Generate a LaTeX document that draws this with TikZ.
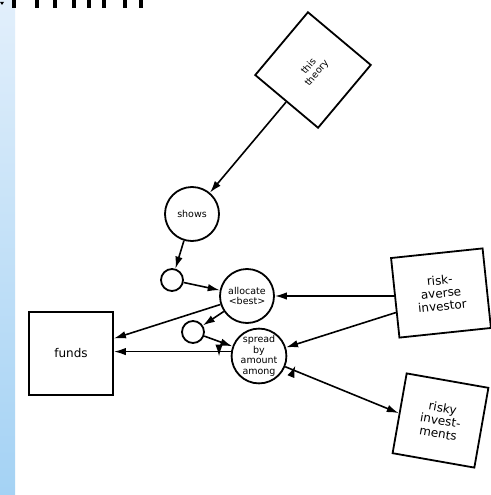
\documentclass[tikz,border=0pt]{standalone}
\usepackage{fontspec}
\setmainfont{DejaVu Sans}
\usetikzlibrary{arrows.meta,calc,decorations.markings}
\definecolor{stripTop}{HTML}{E2EFFB}
\definecolor{stripBot}{HTML}{A4D2F4}
\tikzset{
  conn/.style={line width=1.6pt,-{Latex[length=12pt,width=7.5pt]}},
  circ/.style={circle,draw,line width=1.8pt,minimum size=54pt,inner sep=0pt,align=center,font=\fontsize{9.5}{10.5}\selectfont},
  smallc/.style={circle,draw,line width=1.8pt,minimum size=22pt,inner sep=0pt},
  box/.style={rectangle,draw,line width=1.8pt,align=center,inner sep=0pt,font=\fontsize{12}{13}\selectfont},
  tickstart/.style={postaction={decorate,decoration={markings,mark=at position #1 with {\draw[line width=1.6pt] (0,-5pt) -- (0,5pt);}}}},
  tickstart/.default=10pt
}
\begin{document}
\begin{tikzpicture}[x=1pt,y=-1pt]
\useasboundingbox (0,0) rectangle (490,495);
\fill[white] (0,0) rectangle (490,495);
\shade[top color=stripTop,bottom color=stripBot] (0,0) rectangle (15,495);
% cut-off lettering at the top
\fill (0,2) -- (4,2) -- (2,5) -- cycle;
\foreach \xx in {12,35,53,72,87,102,123,139}{
  \fill (\xx,0) rectangle ++(3.6,8);
}
% nodes
\node[box,minimum width=82pt,minimum height=82pt,rotate=50,font=\fontsize{9.5}{10.5}\selectfont] (theory) at (313,70) {this\\theory};
\node[circ] (shows) at (192,214) {shows};
\node[smallc] (s1) at (172,280) {};
\node[circ] (alloc) at (247,296) {allocate\\<best>};
\node[smallc] (s2) at (193,332) {};
\node[circ] (spread) at (259,356) {spread\\by\\amount\\among};
\node[box,minimum width=84pt,minimum height=83pt] (funds) at (71,353.5) {funds};
\node[box,minimum width=92pt,minimum height=80pt,rotate=6] (risk) at (441,293) {risk-\\averse\\investor};
\node[box,minimum width=83pt,minimum height=81pt,rotate=-10] (risky) at (440.5,420.5) {risky\\invest-\\ments};
\coordinate (riskLow) at ($(risk.north west)!0.68!(risk.south west)$);
\coordinate (riskyL) at ($(risky.north west)!0.5!(risky.south west)$);
\coordinate (fundsUp) at ([yshift=15pt]funds.east);
% connectors
\draw[conn] (theory) -- (shows);
\draw[conn] (shows) -- (s1);
\draw[conn] (s1) -- (alloc);
\draw[conn] (alloc) -- (s2);
\draw[conn] (s2) -- (spread);
\draw[conn] (alloc) -- (fundsUp);
\draw[conn,tickstart=12pt] (spread.171) -- (spread.171 -| funds.east);
\draw[conn] (alloc.east -| risk.west) -- (alloc.east);
\draw[conn] (riskLow) -- (spread);
\draw[conn,tickstart=9pt] (spread) -- (riskyL);
\end{tikzpicture}
\end{document}
